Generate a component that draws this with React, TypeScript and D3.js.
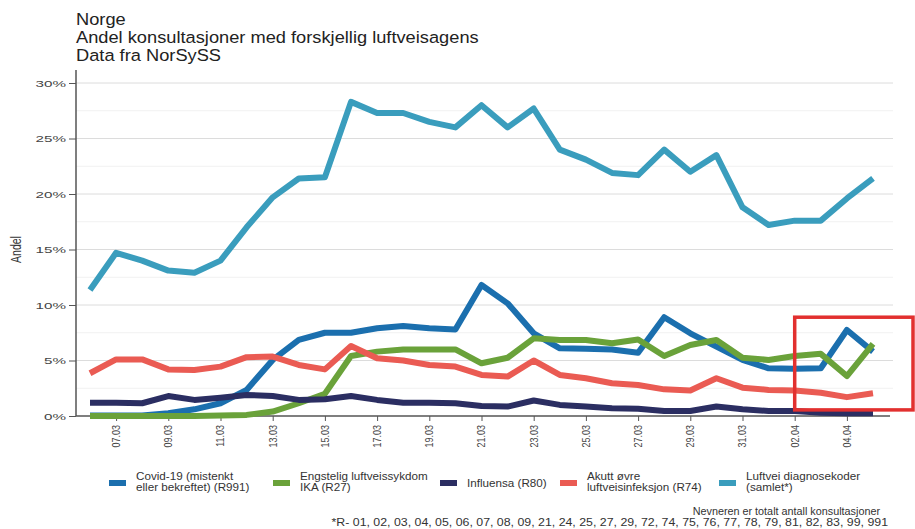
import React, { useEffect, useRef } from "react";
import * as d3 from "d3";

const dates = [
  "06.03", "07.03", "08.03", "09.03", "10.03", "11.03", "12.03", "13.03",
  "14.03", "15.03", "16.03", "17.03", "18.03", "19.03", "20.03", "21.03",
  "22.03", "23.03", "24.03", "25.03", "26.03", "27.03", "28.03", "29.03",
  "30.03", "31.03", "01.04", "02.04", "03.04", "04.04", "05.04",
];
const xTickLabels = [
  "07.03", "09.03", "11.03", "13.03", "15.03", "17.03", "19.03", "21.03",
  "23.03", "25.03", "27.03", "29.03", "31.03", "02.04", "04.04",
];
const yTicks = [0, 0.05, 0.1, 0.15, 0.2, 0.25, 0.3];
const yMinorTicks = [0.025, 0.075, 0.125, 0.175, 0.225, 0.275];

// andel i prosent
const covid = [
  0.05, 0.05, 0.05, 0.25, 0.6, 1.15, 2.35, 5.05, 6.85, 7.5, 7.5, 7.9, 8.1, 7.9, 7.8, 11.8,
  10.15, 7.45, 6.1, 6.05, 6.0, 5.7, 8.9, 7.45, 6.25, 5.05, 4.3, 4.25, 4.3, 7.75, 5.8,
];
const ika = [
  0, 0, 0, 0, 0, 0.05, 0.1, 0.4, 1.15, 2.0, 5.4, 5.8, 6.0, 6.0, 6.0, 4.75,
  5.25, 7.0, 6.85, 6.85, 6.55, 6.9, 5.4, 6.4, 6.85, 5.25, 5.05, 5.4, 5.6, 3.6, 6.5,
];
const influensa = [
  1.2, 1.2, 1.15, 1.8, 1.45, 1.65, 1.9, 1.8, 1.45, 1.5, 1.8, 1.45, 1.2, 1.2, 1.15, 0.9,
  0.85, 1.4, 1.0, 0.85, 0.7, 0.65, 0.45, 0.45, 0.85, 0.6, 0.45, 0.45, 0.3, 0.25, 0.25,
];
const akutt = [
  3.85, 5.1, 5.1, 4.2, 4.15, 4.45, 5.3, 5.35, 4.6, 4.2, 6.3, 5.2, 5.0, 4.6, 4.45, 3.7,
  3.55, 5.0, 3.7, 3.4, 2.95, 2.8, 2.4, 2.3, 3.4, 2.55, 2.35, 2.3, 2.1, 1.7, 2.05,
];
const samlet = [
  11.35, 14.7, 14.0, 13.1, 12.9, 14.0, 17.0, 19.7, 21.4, 21.5, 28.3, 27.3, 27.3, 26.5, 26.0, 28.0,
  26.0, 27.7, 24.0, 23.1, 21.9, 21.7, 24.0, 22.0, 23.5, 18.8, 17.2, 17.6, 17.6, 19.6, 21.4,
];

const seriesNames = [
  ["Covid-19 (mistenkt", "eller bekreftet) (R991)"],
  ["Engstelig luftveissykdom", "IKA (R27)"],
  ["Influensa (R80)"],
  ["Akutt øvre", "luftveisinfeksjon (R74)"],
  ["Luftvei diagnosekoder", "(samlet*)"],
];
const seriesValues = [covid, ika, influensa, akutt, samlet];
const colors = ["#1b6fae", "#6aa23a", "#2b2e62", "#ea5b53", "#3a9dbd"];
const legendX = [109, 273, 440, 560, 719];

const titleLines = ["Norge", "Andel konsultasjoner med forskjellig luftveisagens", "Data fra NorSySS"];
const footLines = [
  "Nevneren er totalt antall konsultasjoner",
  "*R- 01, 02, 03, 04, 05, 06, 07, 08, 09, 21, 24, 25, 27, 29, 72, 74, 75, 76, 77, 78, 79, 81, 82, 83, 99, 991",
];

const W = 915;
const H = 529;
const font = "'Liberation Sans', Arial, Helvetica, sans-serif";

export default function App() {
  const ref = useRef<SVGSVGElement>(null);

  useEffect(() => {
    const svg = d3.select(ref.current);
    svg.selectAll("*").remove();
    svg.style("font-family", font);

    const x = d3.scalePoint<string>().domain(dates).range([90, 873]);
    const y = d3.scaleLinear().domain([0, 0.3]).range([416, 83]);
    const left = 76;
    const right = 893;

    // title (the source image is stretched sideways)
    svg.append("g")
      .attr("transform", `translate(${left},0) scale(1.12,1)`)
      .selectAll("text")
      .data(titleLines)
      .join("text")
      .attr("x", 0)
      .attr("y", (d, i) => 25 + i * 18)
      .attr("font-size", 16.3)
      .attr("fill", "#222")
      .text(d => d);

    // grid
    svg.append("g")
      .selectAll("line")
      .data(yMinorTicks)
      .join("line")
      .attr("x1", left).attr("x2", right)
      .attr("y1", d => y(d)).attr("y2", d => y(d))
      .attr("stroke", "#f1f1f1");
    svg.append("g")
      .selectAll("line")
      .data(yTicks.slice(1))
      .join("line")
      .attr("x1", left).attr("x2", right)
      .attr("y1", d => y(d)).attr("y2", d => y(d))
      .attr("stroke", "#dcdcdc");

    // y axis
    const yAxis = svg.append("g")
      .attr("transform", `translate(${left},0)`)
      .call(d3.axisLeft(y).tickValues(yTicks).tickFormat(d3.format(".0%")).tickSize(7).tickPadding(3));
    yAxis.select(".domain").attr("stroke", "#555").attr("stroke-width", 1.5).attr("d", `M0,70V${y(0)}`);
    yAxis.selectAll(".tick line").attr("stroke", "#555");
    yAxis.selectAll(".tick text")
      .attr("fill", "#444")
      .attr("font-size", 9.5)
      .attr("font-family", font)
      .attr("x", 0)
      .attr("transform", "translate(-10,0) scale(1.6,1)");

    svg.append("text")
      .attr("transform", `translate(21,${(y(0) + y(0.3)) / 2}) scale(1.35,1) rotate(-90)`)
      .attr("text-anchor", "middle")
      .attr("font-size", 10.5)
      .attr("fill", "#333")
      .text("Andel");

    // x axis
    const xAxis = svg.append("g")
      .attr("transform", `translate(0,${y(0)})`)
      .call(d3.axisBottom(x).tickValues(xTickLabels).tickSize(5).tickSizeOuter(0));
    xAxis.select(".domain").attr("stroke", "#555").attr("stroke-width", 1.5).attr("d", `M${left},0H890`);
    xAxis.selectAll(".tick line").attr("stroke", "#555");
    xAxis.selectAll(".tick text")
      .attr("fill", "#444")
      .attr("font-size", 9)
      .attr("font-family", font)
      .attr("transform", "scale(1.2,1) rotate(-90)")
      .attr("text-anchor", "end")
      .attr("x", -9)
      .attr("y", 0)
      .attr("dy", "0.32em");

    // lines
    const line = d3.line<number>()
      .x((d, i) => x(dates[i]) as number)
      .y(d => y(d / 100));
    svg.append("g")
      .selectAll("path")
      .data(seriesValues)
      .join("path")
      .attr("d", d => line(d))
      .attr("fill", "none")
      .attr("stroke", (d, i) => colors[i])
      .attr("stroke-width", 6)
      .attr("stroke-linejoin", "round");

    // red highlight box
    svg.append("rect")
      .attr("x", x("02.04") as number)
      .attr("y", y(0.089))
      .attr("width", 913 - (x("02.04") as number))
      .attr("height", y(0.0055) - y(0.089))
      .attr("fill", "none")
      .attr("stroke", "#e2302f")
      .attr("stroke-width", 3.5);

    // legend
    const leg = svg.append("g")
      .selectAll("g")
      .data(seriesNames)
      .join("g")
      .attr("transform", (d, i) => `translate(${legendX[i]},483)`);
    leg.append("rect")
      .attr("x", 0).attr("y", -3)
      .attr("width", 17).attr("height", 6)
      .attr("fill", (d, i) => colors[i]);
    leg.append("text")
      .attr("transform", "translate(27,0) scale(1.08,1)")
      .attr("font-size", 10.8)
      .attr("fill", "#333")
      .selectAll("tspan")
      .data(d => d.map((t, j) => ({ t, j, n: d.length })))
      .join("tspan")
      .attr("x", 0)
      .attr("y", o => (o.n === 1 ? 3.5 : -3 + o.j * 11))
      .text(o => o.t);

    // footnote
    const footScale = [1.05, 1.2];
    const footRight = [880, 888];
    svg.append("g")
      .selectAll("text")
      .data(footLines)
      .join("text")
      .attr("transform", (d, i) => `translate(${footRight[i]},${515 + i * 11}) scale(${footScale[i]},1)`)
      .attr("text-anchor", "end")
      .attr("font-size", 10.3)
      .attr("fill", "#333")
      .text(d => d);
  }, []);

  return (
    <svg
      ref={ref}
      width={W}
      height={H}
      style={{ position: "absolute", left: 0, top: 0, background: "#fff" }}
    />
  );
}
